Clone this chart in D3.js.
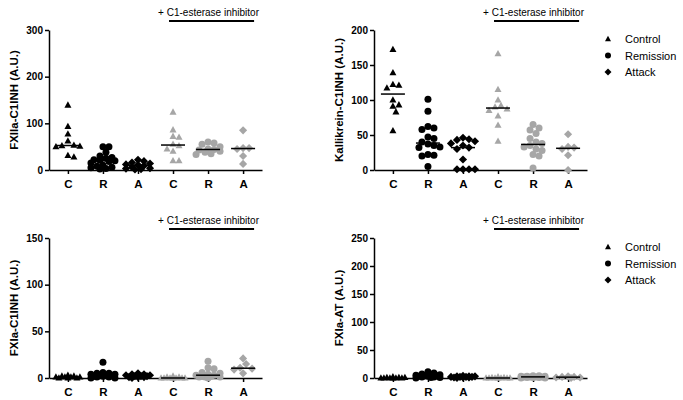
<!DOCTYPE html>
<html><head><meta charset="utf-8">
<script src="https://cdn.jsdelivr.net/npm/d3@7"></script>
<style>
body{margin:0;background:#fff}
svg{display:block}
text{font-family:"Liberation Sans",Arial,Helvetica,sans-serif;fill:#000}
</style>
</head><body>
<svg id="chart" width="683" height="400"></svg>
<script>
// ---- data ----
const categories = ["C","R","A","C","R","A"];
const groupShapes = ["triangle","circle","diamond","triangle","circle","diamond"];
const groupTreated = [false,false,false,true,true,true];
const legendLabels = ["Control","Remission","Attack"];
const legendShapes = ["triangle","circle","diamond"];
const bracketLabel = "+ C1-esterase inhibitor";

const titles = ["FXIIa-C1INH (A.U.)","Kallikrein-C1INH (A.U.)","FXIa-C1INH (A.U.)","FXIa-AT (A.U.)"];
const yTicks1 = [0,100,200,300];
const yTicks2 = [0,50,100,150,200];
const yTicks3 = [0,50,100,150];
const yTicks4 = [0,50,100,150,200,250];

const fxiiaC1inh = [
  [139,93,77,62,53,52,51,50,31,28],
  [50,50,38,30,27,25,22,21,20,18,15,10,8,6,5,3,2],
  [22,19,16,14,12,11,9,6,4,3,2,1],
  [124,86,72,70,55,52,45,40,20,20],
  [60,58,55,50,45,44,43,40,38,35,33],
  [85,47,47,45,30,13]
];
const kallikreinC1inh = [
  [172,139,122,121,117,100,93,91,83,56],
  [101,84,62,60,58,47,45,40,37,35,33,32,22,21,20,5],
  [46,44,43,41,38,35,32,30,15,1,1,1,1],
  [166,115,100,92,90,87,85,77,64,41],
  [65,60,57,52,45,40,38,35,33,30,28,22,20,3],
  [51,33,32,30,21,0]
];
const fxiaC1inh = [
  [3,2,2,1,1,1,1,0,0,0],
  [17,6,5,5,4,4,3,3,3,2,2,1,1,0,0],
  [5,4,4,3,3,2,2,2,1,1,1,0],
  [2,1,1,0,0,0,0,0,0,0],
  [18,11,10,6,5,4,3,3,2,2,1,1,1,0],
  [21,15,11,10,9,5]
];
const fxiaAt = [
  [2,1,1,1,0,0,0,0,0,0],
  [11,9,7,6,5,5,4,4,3,3,2,2,1,1,0],
  [4,3,3,3,2,2,2,2,1,1,1,0],
  [2,1,1,0,0,0,0,0,0,0],
  [4,4,3,3,3,2,2,2,2,1,1,1,0,0],
  [3,2,2,1,1,0]
];

// ---- layout ----
const panels = [
  {title:titles[0], data:fxiiaC1inh, ticks:yTicks1, ax:49, top:30, bottom:170, legend:false},
  {title:titles[1], data:kallikreinC1inh, ticks:yTicks2, ax:374, top:30, bottom:170, legend:true},
  {title:titles[2], data:fxiaC1inh, ticks:yTicks3, ax:49, top:238, bottom:378, legend:false},
  {title:titles[3], data:fxiaAt, ticks:yTicks4, ax:374, top:238, bottom:378, legend:true}
];
const GRAY = "#a6a6a6";
const svg = d3.select("#chart");

function shapePath(kind, s) {
  if (kind === "circle") {
    const r = s*0.5;
    return `M${r},0A${r},${r} 0 1,1 ${-r},0A${r},${r} 0 1,1 ${r},0Z`;
  }
  if (kind === "triangle") {
    const h = s*0.9, w = s*0.5;
    return `M0,${-h*0.6}L${w},${h*0.4}L${-w},${h*0.4}Z`;
  }
  const r = s*0.58;
  return `M0,${-r}L${r},0L0,${r}L${-r},0Z`;
}

function swarm(values, y, d, maxHalf) {
  const placed = [];
  const order = values.map((v,i)=>({v,i,py:y(v)})).sort((a,b)=>b.v-a.v);
  const step = d/2;
  order.forEach(p => {
    let best = null, bestScore = -1;
    for (let k = 0; k <= Math.floor(maxHalf/step); k++) {
      const cands = k === 0 ? [0] : [k*step, -k*step];
      for (const dx of cands) {
        let minD = Infinity;
        placed.forEach(q => { minD = Math.min(minD, Math.hypot(q.dx-dx, q.py-p.py)); });
        if (minD >= d) { best = dx; bestScore = Infinity; break; }
        if (minD > bestScore) { bestScore = minD; best = dx; }
      }
      if (bestScore === Infinity) break;
    }
    placed.push({v:p.v, py:p.py, dx:best});
  });
  return placed;
}

panels.forEach(P => {
  const g = svg.append("g");
  const maxV = d3.max(P.ticks);
  const y = d3.scaleLinear().domain([0,maxV]).range([P.bottom,P.top]);
  const x = d3.scalePoint().domain(d3.range(categories.length)).range([P.ax, P.ax+213]).padding(0.54);

  // y axis
  const ya = g.append("g").attr("transform",`translate(${P.ax},0)`)
    .call(d3.axisLeft(y).tickValues(P.ticks).tickSize(4).tickSizeOuter(0).tickPadding(2));
  ya.select(".domain").attr("stroke","#000").attr("stroke-width",1.5);
  ya.selectAll(".tick line").attr("stroke","#000").attr("stroke-width",1.5);
  ya.selectAll(".tick text").attr("font-size",10).attr("font-weight","bold")
    .attr("font-family","'Liberation Sans',Arial,sans-serif");

  // x axis
  const xa = g.append("g").attr("transform",`translate(0,${P.bottom})`)
    .call(d3.axisBottom(x).tickSize(4).tickSizeOuter(0).tickPadding(6).tickFormat(i=>categories[i]));
  xa.select(".domain").attr("stroke","#000").attr("stroke-width",1.5);
  xa.selectAll(".tick line").attr("stroke","#000").attr("stroke-width",1.5);
  xa.selectAll(".tick text").attr("font-size",11.5).attr("font-weight","bold")
    .attr("font-family","'Liberation Sans',Arial,sans-serif");

  // y title
  g.append("text")
    .attr("transform",`translate(${P.ax-31},${(P.top+P.bottom)/2}) rotate(-90)`)
    .attr("text-anchor","middle").attr("font-size",11.5).attr("font-weight","bold")
    .text(P.title);

  // points
  P.data.forEach((vals, gi) => {
    const cx = x(gi);
    const col = groupTreated[gi] ? GRAY : "#000";
    const pts = swarm(vals, y, 6, 12);
    g.append("g").selectAll("path").data(pts).join("path")
      .attr("d", shapePath(groupShapes[gi], 7))
      .attr("transform", p => `translate(${cx+p.dx},${p.py})`)
      .attr("fill", col);
    const med = d3.median(vals);
    g.append("line").attr("x1",cx-12).attr("x2",cx+12)
      .attr("y1",y(med)).attr("y2",y(med))
      .attr("stroke","#000").attr("stroke-width",1.5);
  });

  // bracket
  const bx1 = x(3)-4, bx2 = x(5)+11;
  g.append("line").attr("x1",bx1).attr("x2",bx2).attr("y1",P.top-9).attr("y2",P.top-9)
    .attr("stroke","#000").attr("stroke-width",2);
  g.append("text").attr("x",(bx1+bx2)/2-3).attr("y",P.top-14)
    .attr("text-anchor","middle").attr("font-size",10).text(bracketLabel);

  // legend
  if (P.legend) {
    const lx = P.ax + 234;
    legendLabels.forEach((lab, i) => {
      const ly = P.top + 9 + i*16.5;
      g.append("path").attr("d", shapePath(legendShapes[i], 6))
        .attr("transform",`translate(${lx},${ly})`).attr("fill","#000");
      g.append("text").attr("x",lx+17).attr("y",ly+4).attr("font-size",11).text(lab);
    });
  }
});
</script>
</body></html>
